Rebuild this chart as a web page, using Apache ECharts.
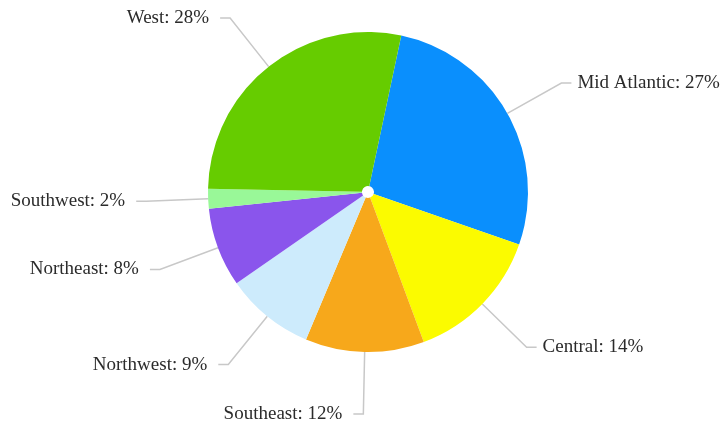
<!DOCTYPE html>
<html>
<head>
<meta charset="utf-8">
<script src="https://cdn.jsdelivr.net/npm/echarts@6/dist/echarts.min.js"></script>
<style>
  html, body { margin: 0; padding: 0; background: #fff; }
  #chart { width: 722px; height: 428px; }
</style>
</head>
<body>
<div id="chart"></div>
<script>
// Regional share, in percent, drawn clockwise
var regions = ['Mid Atlantic', 'Central', 'Southeast', 'Northwest', 'Northeast', 'Southwest', 'West'];
var shares = [27, 14, 12, 9, 8, 2, 28];
var sliceColors = ['#0a8ffd', '#fbfb00', '#f7a81b', '#cdebfc', '#8a55ec', '#99f898', '#66cc00'];
// labels on the right side sit closer to their leader lines
var rightSide = ['Mid Atlantic', 'Central'];

var chart = echarts.init(document.getElementById('chart'));
chart.setOption({
  animation: false,
  series: [{
    type: 'pie',
    center: [368, 192],
    radius: [6, 160],
    startAngle: 78,
    clockwise: true,
    avoidLabelOverlap: false,
    data: regions.map(function (name, i) {
      return {
        name: name,
        value: shares[i],
        itemStyle: { color: sliceColors[i] },
        label: { distanceToLabelLine: rightSide.indexOf(name) >= 0 ? 6 : 11 }
      };
    }),
    label: {
      show: true,
      formatter: '{b}: {c}%',
      fontFamily: '"Liberation Serif", "DejaVu Serif", serif',
      fontSize: 19,
      color: '#2b2b2b'
    },
    labelLine: {
      show: true,
      length: 62,
      length2: 10,
      lineStyle: { color: '#c8c8c8', width: 1.5 }
    },
    emphasis: { disabled: true }
  }]
});
</script>
</body>
</html>
